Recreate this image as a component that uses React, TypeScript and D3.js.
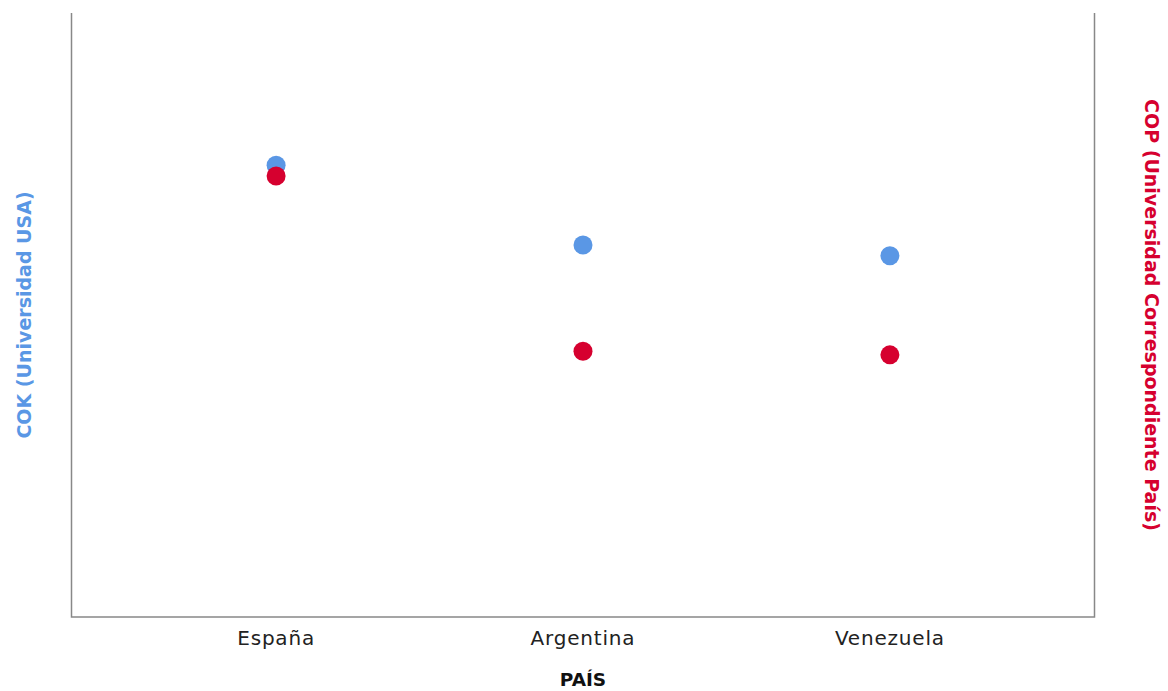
import React from "react";
import * as d3 from "d3";

const categories = ["España", "Argentina", "Venezuela"];
const cokValues = [74.8, 61.6, 59.8];
const copValues = [73.0, 44.0, 43.4];
const yDomain = [0, 100];

const W = 1168;
const H = 691;
const left = 71.5;
const right = 1094.5;
const top = 13;
const bottom = 617;

const BLUE = "#5A97E5";
const RED = "#D6002F";
const FONT = "'DejaVu Sans', 'Liberation Sans', sans-serif";

export default function App() {
  const x = d3.scalePoint<string>().domain(categories).range([left, right]).padding(2 / 3);
  const yL = d3.scaleLinear().domain(yDomain).range([bottom, top]);
  const yR = d3.scaleLinear().domain(yDomain).range([bottom, top]);
  const midY = 315;
  return (
    <svg width={W} height={H} style={{ position: "absolute", left: 0, top: 0 }}>
      <rect width={W} height={H} fill="#fff" />
      <path
        d={`M${left},${top}V${bottom}H${right}V${top}`}
        fill="none"
        stroke="#888"
        strokeWidth={1.5}
      />
      {categories.map((c, i) => (
        <g key={c}>
          <circle cx={x(c)} cy={yL(cokValues[i])} r={9.5} fill={BLUE} />
          <circle cx={x(c)} cy={yR(copValues[i])} r={9.5} fill={RED} />
          <text
            x={x(c)}
            y={645}
            textAnchor="middle"
            fontFamily={FONT}
            fontSize={20}
            letterSpacing={0.8}
            fill="#222"
          >
            {c}
          </text>
        </g>
      ))}
      <text
        x={(left + right) / 2}
        y={686}
        textAnchor="middle"
        fontFamily={FONT}
        fontWeight="bold"
        fontSize={18.5}
        fill="#111"
      >
        PAÍS
      </text>
      <text
        transform={`translate(31,${midY}) rotate(-90)`}
        textAnchor="middle"
        fontFamily={FONT}
        fontWeight="bold"
        fontSize={19}
        fill={BLUE}
      >
        COK (Universidad USA)
      </text>
      <text
        transform={`translate(1145,${midY}) rotate(90)`}
        textAnchor="middle"
        fontFamily={FONT}
        fontWeight="bold"
        fontSize={19}
        fill={RED}
      >
        COP (Universidad Correspondiente País)
      </text>
    </svg>
  );
}
